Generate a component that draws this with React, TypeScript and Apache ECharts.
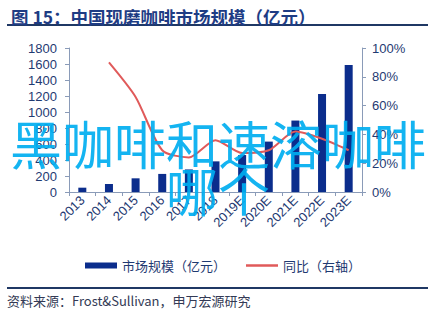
import React, { useEffect, useRef } from "react";
import * as echarts from "echarts";

const categories = ["2013", "2014", "2015", "2016", "2017", "2018", "2019E", "2020E", "2021E", "2022E", "2023E"];
const marketSize = [54, 100, 171, 226, 282, 383, 462, 630, 893, 1225, 1587];
const yoy = [null, 90, 66, 29, 24, 36, 27, 29, 42, 37, 29];
const leftTicks = { min: 0, max: 1800, interval: 200 };
const rightTicks = { min: 0, max: 100, interval: 20 };
const titleText = "图 15：中国现磨咖啡市场规模（亿元）";
const sourceText = "资料来源：Frost&Sullivan，申万宏源研究";
const overlayLine1 = "黑咖啡和速溶咖啡";
const overlayLine2 = "哪个";
const seriesNames = ["市场规模（亿元）", "同比（右轴）"];

const NAVY = "#1e3c84";
const LABEL = "#1f3a72";
const AXIS = "#8a9bb8";
const FONT = "'Liberation Sans', Arial, 'Noto Sans CJK SC', sans-serif";
const CJK = "'Noto Sans CJK SC', 'Liberation Sans', sans-serif";

export default function App() {
  const ref = useRef<HTMLDivElement>(null);
  useEffect(() => {
    document.body.style.margin = "0";
    const chart = echarts.init(ref.current!, null, { renderer: "svg" });
    chart.setOption({
      animation: false,
      backgroundColor: "#ffffff",
      title: {
        text: titleText,
        left: 6,
        top: 3,
        textStyle: { fontSize: 17.5, fontWeight: "bold", color: NAVY, fontFamily: CJK },
      },
      grid: { left: 69, right: 69, top: 48, bottom: 128, containLabel: false },
      legend: {
        left: 80,
        top: 254,
        itemWidth: 32,
        itemHeight: 6,
        itemGap: 20,
        textStyle: { fontSize: 13, color: LABEL, fontFamily: CJK },
        data: [
          { name: seriesNames[0], icon: "rect" },
          { name: seriesNames[1], icon: "path://M0,0 L32,0 L32,2.5 L0,2.5 Z" },
        ],
      },
      xAxis: {
        type: "category",
        data: categories,
        boundaryGap: true,
        axisLine: { lineStyle: { color: AXIS, width: 1 } },
        axisTick: { show: true, length: 4, lineStyle: { color: AXIS } },
        axisLabel: { rotate: 45, fontSize: 13, color: LABEL, fontFamily: FONT, margin: 6, interval: 0 },
      },
      yAxis: [
        {
          type: "value",
          min: leftTicks.min,
          max: leftTicks.max,
          interval: leftTicks.interval,
          axisLine: { show: true, lineStyle: { color: AXIS } },
          axisTick: { show: true, length: 4, lineStyle: { color: AXIS } },
          splitLine: { show: false },
          axisLabel: {
            fontSize: 13,
            color: LABEL,
            fontFamily: FONT,
            margin: 12,
            formatter: (v: number) => String(v),
          },
        },
        {
          type: "value",
          min: rightTicks.min,
          max: rightTicks.max,
          interval: rightTicks.interval,
          position: "right",
          axisLine: { show: true, lineStyle: { color: AXIS } },
          axisTick: { show: true, length: 4, lineStyle: { color: AXIS } },
          splitLine: { show: false },
          axisLabel: { fontSize: 13, color: LABEL, fontFamily: FONT, margin: 10, formatter: "{value}%" },
        },
      ],
      series: [
        {
          name: seriesNames[0],
          type: "bar",
          data: marketSize,
          barWidth: 8,
          itemStyle: { color: "#0b2d8c" },
          yAxisIndex: 0,
        },
        {
          name: seriesNames[1],
          type: "line",
          data: yoy,
          yAxisIndex: 1,
          smooth: 0.25,
          symbol: "none",
          lineStyle: { color: "#e05a5a", width: 2 },
          itemStyle: { color: "#e05a5a" },
          z: 3,
        },
      ],
      graphic: [
        {
          type: "line",
          shape: { x1: 7, y1: 25, x2: 428, y2: 25 },
          style: { stroke: "#1f3864", lineWidth: 2 },
        },
        {
          type: "line",
          shape: { x1: 7, y1: 288, x2: 428, y2: 288 },
          style: { stroke: "#1f3864", lineWidth: 2 },
        },
        {
          type: "text",
          left: 7,
          top: 294,
          style: { text: sourceText, fontSize: 13, fill: "#333a55", fontFamily: CJK },
        },
        {
          type: "text",
          x: 218,
          y: 142,
          z: 100,
          style: {
            text: overlayLine1,
            fontSize: 52,
            fill: "#00aef0",
            opacity: 0.92,
            fontFamily: CJK,
            textAlign: "center",
            textVerticalAlign: "middle",
          },
        },
        {
          type: "text",
          x: 218,
          y: 189,
          z: 100,
          style: {
            text: overlayLine2,
            fontSize: 52,
            fill: "#00aef0",
            opacity: 0.92,
            fontFamily: CJK,
            textAlign: "center",
            textVerticalAlign: "middle",
          },
        },
      ],
    });
    return () => chart.dispose();
  }, []);
  return <div ref={ref} style={{ width: 431, height: 320 }} />;
}
